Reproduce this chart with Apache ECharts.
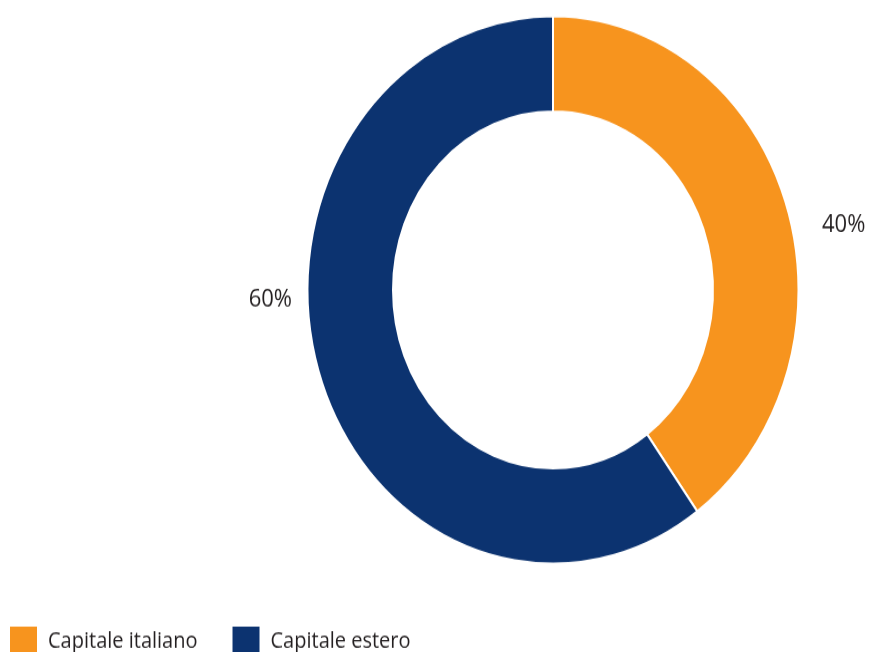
<!DOCTYPE html>
<html>
<head>
<meta charset="utf-8">
<script src="https://cdn.jsdelivr.net/npm/echarts@6/dist/echarts.min.js"></script>
<style>
  html, body { margin: 0; padding: 0; background: #fff; overflow: hidden; }
  #wrap { width: 872px; height: 652px; overflow: hidden; position: relative; }
  /* the donut is drawn slightly taller than wide */
  #chart { width: 872px; height: 600px; transform: scaleY(1.115); transform-origin: 0 0; }
</style>
</head>
<body>
<div id="wrap"><div id="chart"></div></div>
<script>
  const categories = ['Capitale italiano', 'Capitale estero'];
  const shares = [40, 60];
  const colors = ['#F7941E', '#0C3370'];

  // label anchor points (chart pixels, before vertical stretch)
  const labelAnchors = [
    { x: 822, y: 202, align: 'left' },
    { x: 292, y: 269, align: 'right' }
  ];

  const chart = echarts.init(document.getElementById('chart'), null, { renderer: 'canvas' });

  chart.setOption({
    animation: false,
    color: colors,
    legend: {
      left: 8,
      top: 560,
      padding: 0,
      orient: 'horizontal',
      itemWidth: 29,
      itemHeight: 28,
      itemGap: 33,
      icon: 'rect',
      textStyle: {
        fontFamily: 'Open Sans',
        fontSize: 20,
        color: '#231F20',
        padding: [0, 0, 0, 5]
      },
      data: categories
    },
    series: [{
      type: 'pie',
      center: [553, 260],
      radius: [160, 245.5],
      startAngle: 90,
      clockwise: true,
      avoidLabelOverlap: false,
      itemStyle: { borderColor: '#ffffff', borderWidth: 2 },
      label: {
        show: true,
        position: 'outside',
        formatter: '{c}%',
        fontFamily: 'Open Sans',
        fontSize: 22,
        color: '#231F20'
      },
      labelLine: { show: false },
      labelLayout: function (p) {
        const a = labelAnchors[p.dataIndex];
        return { x: a.x, y: a.y, align: a.align, verticalAlign: 'middle' };
      },
      emphasis: { disabled: true },
      data: categories.map((name, i) => ({ name: name, value: shares[i] }))
    }]
  });
</script>
</body>
</html>
